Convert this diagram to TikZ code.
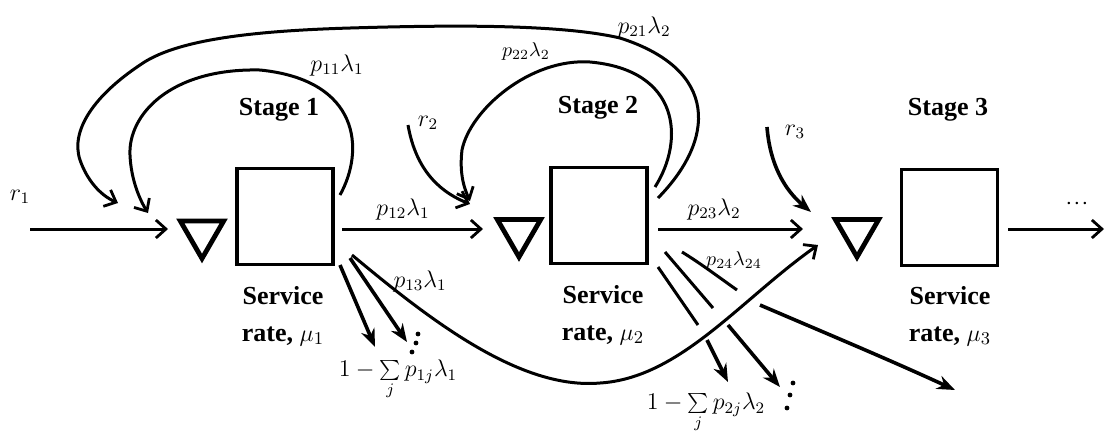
\documentclass[tikz,border=0pt]{standalone}
\usepackage{fontspec}
\setmainfont{Liberation Serif}
\usetikzlibrary{arrows.meta,shapes.geometric}
\begin{document}
\begin{tikzpicture}[x=0.5pt,y=-0.5pt,
  server/.style={draw,line width=1.6pt,minimum width=48pt,minimum height=48pt,inner sep=0pt},
  queue/.style={draw,regular polygon,regular polygon sides=3,shape border rotate=180,line width=2.4pt,minimum size=25pt,inner sep=0pt},
  flow/.style={line width=1.5pt,-{Straight Barb[length=5pt,width=9pt,line width=1.4pt]}},
  dflow/.style={line width=1.8pt,-{Stealth[length=9pt,width=7pt]}},
  plain/.style={line width=1.5pt},
  stagelbl/.style={font=\bfseries\fontsize{13}{15}\selectfont},
  svc/.style={font=\bfseries\fontsize{13}{18.5}\selectfont,align=center},
  hw/.style={font=\fontsize{12}{14}\selectfont,inner sep=0pt},
  hws/.style={font=\fontsize{10}{12}\selectfont,inner sep=0pt},
  dot/.style={circle,fill,inner sep=0pt,minimum size=2.4pt}
]
\useasboundingbox (0,0) rectangle (1105,441);
\fill[white] (0,0) rectangle (1105,441);

% servers and queues
\node[server] (b1) at (285,216.5) {};
\node[server] (b2) at (599,215.5) {};
\node[server] (b3) at (949.5,217.5) {};
\node[queue] (q1) at (202,233.5) {};
\node[queue] (q2) at (519,232) {};
\node[queue] (q3) at (857,232) {};

% stage labels
\node[stagelbl] (s1) at (279,110) {Stage 1};
\node[stagelbl] (s2) at (598,108) {Stage 2};
\node[stagelbl] (s3) at (948,110) {Stage 3};
\node[svc] (r1t) at (283,316) {Service\\rate, $\mu_1$};
\node[svc] (r2t) at (603,315) {Service\\rate, $\mu_2$};
\node[svc] (r3t) at (950,316) {Service\\rate, $\mu_3$};

% coordinates
\coordinate (src1) at (30,229);
\coordinate (in1) at (168,229);
\coordinate (out1) at (342,229);
\coordinate (in2) at (483,229);
\coordinate (out2) at (658,229);
\coordinate (in3) at (803,229);
\coordinate (out3) at (1008,229);
\coordinate (end3) at (1104,229);

% horizontal flows
\draw[flow] (src1) -- (in1);
\draw[flow] (out1) -- (in2);
\draw[flow] (out2) -- (in3);
\draw[flow] (out3) -- (end3);

\node[hw] (lr1) at (20,197) {$r_1$};
\node[hw] (l12) at (403,209) {$p_{12}\lambda_1$};
\node[hw] (l23) at (714,209) {$p_{23}\lambda_2$};
\node[font=\bfseries\large] (more) at (1077,204) {$\cdot\!\cdot\!\cdot$};

% feedback loops
\coordinate (l11s) at (340,195);
\coordinate (l11e) at (148,213);
\draw[flow] (l11s) .. controls (365,150) and (360,80) .. (260,70)
  .. controls (170,68) and (128,115) .. (130,155)
  .. controls (131,180) and (140,200) .. (l11e);
\node[hw] (l11) at (337,65) {$p_{11}\lambda_1$};

\coordinate (l21s) at (658,198);
\coordinate (l21e) at (118,203);
\draw[flow] (l21s) .. controls (715,140) and (720,70) .. (620,38)
  .. controls (560,24) and (450,25) .. (350,28)
  .. controls (250,31) and (175,40) .. (140,65)
  .. controls (95,95) and (70,130) .. (80,160)
  .. controls (87,180) and (100,195) .. (l21e);
\node[hw] (l21) at (644,27) {$p_{21}\lambda_2$};

\coordinate (l22s) at (655,187);
\coordinate (l22e) at (470,201);
\draw[flow] (l22s) .. controls (685,140) and (680,70) .. (590,62)
  .. controls (530,58) and (470,110) .. (462,150)
  .. controls (459,175) and (465,190) .. (l22e);
\node[hws] (l22) at (526,51) {$p_{22}\lambda_2$};

% external arrivals
\coordinate (r2s) at (408,125);
\coordinate (r2e) at (470,204);
\draw[flow] (r2s) .. controls (415,165) and (435,190) .. (r2e);
\node[hw] (lr2) at (428,123) {$r_2$};

\coordinate (r3s) at (767,127);
\coordinate (r3e) at (811,212);
\draw[dflow] (r3s) .. controls (770,165) and (785,190) .. (r3e);
\node[hw] (lr3) at (795,132) {$r_3$};

% stage 1 departures
\coordinate (d1a) at (340,265);
\coordinate (d1ae) at (375,347);
\coordinate (d1b) at (350,258);
\coordinate (d1be) at (407,342);
\draw[dflow] (d1a) -- (d1ae);
\draw[dflow] (d1b) -- (d1be);
\node[dot] (k1) at (418,334) {};
\node[dot] (k2) at (416,343) {};
\node[dot] (k3) at (412,352) {};
\node[hw] (lx1) at (398,380) {$1-\sum\limits_j p_{1j}\lambda_1$};

% stage 2 departures (broken where p13 crosses)
\coordinate (d2a) at (658,267);
\coordinate (d2am) at (698,325);
\coordinate (d2an) at (707,340);
\coordinate (d2ae) at (728,382);
\draw[plain] (d2a) -- (d2am);
\draw[dflow] (d2an) -- (d2ae);
\coordinate (d2b) at (665,252);
\coordinate (d2bm) at (713,308);
\coordinate (d2bn) at (728,325);
\coordinate (d2be) at (780,387);
\draw[plain] (d2b) -- (d2bm);
\draw[dflow] (d2bn) -- (d2be);
\node[dot] (k4) at (793,383) {};
\node[dot] (k5) at (790,395) {};
\node[dot] (k6) at (787,408) {};
\node[hw] (lx2) at (706,413) {$1-\sum\limits_j p_{2j}\lambda_2$};

\coordinate (d2c) at (682,252);
\coordinate (d2cm) at (737,290);
\coordinate (d2cn) at (760,305);
\coordinate (d2ce) at (955,390);
\draw[plain] (d2c) .. controls (700,263) and (720,278) .. (d2cm);
\draw[dflow] (d2cn) .. controls (830,335) and (890,360) .. (d2ce);
\node[hws] (l24) at (734,260) {$p_{24}\lambda_{24}$};

% p13 long bypass
\coordinate (p13s) at (352,255);
\coordinate (p13e) at (818,245);
\draw[flow] (p13s) .. controls (430,320) and (520,390) .. (600,383)
  .. controls (680,378) and (740,300) .. (p13e);
\node[hw] (l13) at (420,281) {$p_{13}\lambda_1$};

\end{tikzpicture}
\end{document}
